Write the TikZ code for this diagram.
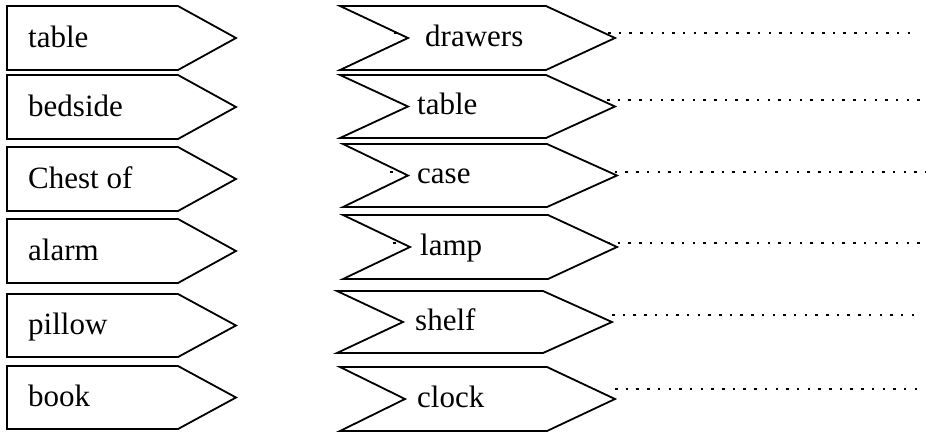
\documentclass[tikz,border=0pt]{standalone}
\usepackage{fontspec}
\setmainfont{Liberation Serif}
\tikzset{
  boxline/.style={draw=black,line width=1.8pt,fill=white,line join=miter},
  leader/.style={draw=black,line width=2.5pt,dash pattern=on 2.5pt off 8.2pt},
  lbl/.style={anchor=base west,inner sep=0pt,font=\fontsize{31}{36}\selectfont}
}
% left box: #1 name, #2 top, #3 bottom, #4 text
\newcommand\lbox[4]{%
  \pgfmathsetmacro\mymid{(#2+#3)/2}%
  \draw[boxline] (7,#2) -- (178,#2) -- (236,\mymid) -- (178,#3) -- (7,#3) -- cycle;
  \node[lbl] (#1) at (28,\mymid+9) {#4};
}
% right box: #1 name, #2 left, #3 notch, #4 topright, #5 tip, #6 top, #7 bottom, #8 text, #9 text x
\newcommand\rbox[9]{%
  \pgfmathsetmacro\mymid{(#6+#7)/2}%
  \draw[boxline] (#2,#6) -- (#4,#6) -- (#5,\mymid) -- (#4,#7) -- (#2,#7) -- (#3,\mymid) -- cycle;
  \node[lbl] (#1) at (#9,\mymid+8) {#8};
}
\begin{document}
\begin{tikzpicture}[x=1pt,y=-1pt]
\useasboundingbox (0,0) rectangle (926,432);
% leader lines (behind the boxes)
\coordinate (s1) at (394,33);  \coordinate (e1) at (918,33);
\coordinate (s2) at (393,100); \coordinate (e2) at (925,100);
\coordinate (s3) at (390,172); \coordinate (e3) at (926,172);
\coordinate (s4) at (393,243); \coordinate (e4) at (926,243);
\coordinate (s5) at (612,315); \coordinate (e5) at (922,315);
\coordinate (s6) at (615,389); \coordinate (e6) at (918,389);
\foreach \i in {1,...,6} { \draw[leader] (s\i) -- (e\i); }
% left column
\lbox{l1}{6}{70}{table}
\lbox{l2}{75}{139}{bedside}
\lbox{l3}{147}{211}{Chest of}
\lbox{l4}{219}{283}{alarm}
\lbox{l5}{294}{357}{pillow}
\lbox{l6}{366}{429}{book}
% right column
\rbox{r1}{340}{408}{546}{615}{6}{70}{drawers}{425}
\rbox{r2}{340}{408}{546}{615}{75}{138}{table}{417}
\rbox{r3}{343}{408}{547}{617}{144}{207}{case}{417}
\rbox{r4}{343}{410}{548}{617}{215}{279}{lamp}{420}
\rbox{r5}{337}{403}{543}{612}{291}{353}{shelf}{415}
\rbox{r6}{340}{405}{547}{615}{367}{431}{clock}{417}
\end{tikzpicture}
\end{document}
